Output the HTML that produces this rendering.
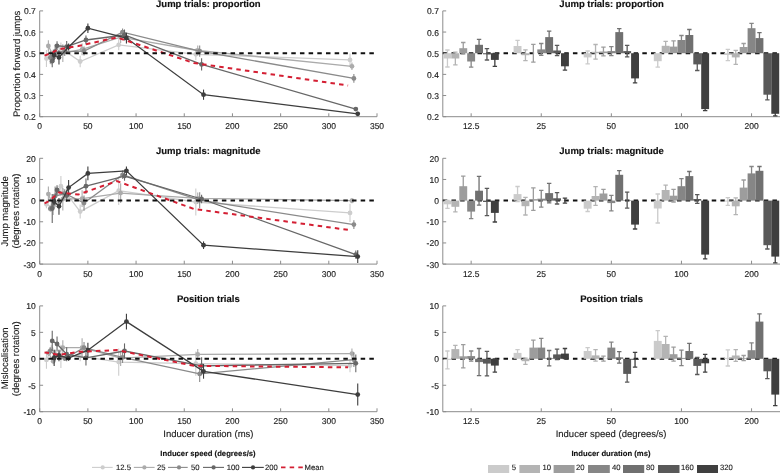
<!DOCTYPE html>
<html><head><meta charset="utf-8"><style>
html,body{margin:0;padding:0;background:#fff;}
svg{display:block;will-change:transform;}
text{font-family:"Liberation Sans", sans-serif;text-rendering:geometricPrecision;}
.tk{font-size:8.5px;fill:#222;stroke:#222;stroke-width:0.15px;}
.ti{font-size:9.5px;font-weight:bold;fill:#111;stroke:#111;stroke-width:0.15px;}
.lb{font-size:9.5px;fill:#1a1a1a;stroke:#1a1a1a;stroke-width:0.12px;}
.lg{font-size:7.7px;fill:#1a1a1a;stroke:#1a1a1a;stroke-width:0.12px;}
.lgt{font-size:7.7px;font-weight:bold;fill:#111;stroke:#111;stroke-width:0.12px;}
</style></head><body>
<svg width="780" height="473" viewBox="0 0 780 473">
<rect width="780" height="473" fill="#fff"/>
<path d="M39.7,10.9V116.7H377.0" fill="none" stroke="#8c8c8c" stroke-width="1"/>
<path d="M39.7,116.70h3.4" stroke="#8c8c8c" stroke-width="1"/>
<text x="35.80" y="120.20" text-anchor="end" class="tk">0.2</text>
<path d="M39.7,95.54h3.4" stroke="#8c8c8c" stroke-width="1"/>
<text x="35.80" y="99.04" text-anchor="end" class="tk">0.3</text>
<path d="M39.7,74.38h3.4" stroke="#8c8c8c" stroke-width="1"/>
<text x="35.80" y="77.88" text-anchor="end" class="tk">0.4</text>
<path d="M39.7,53.22h3.4" stroke="#8c8c8c" stroke-width="1"/>
<text x="35.80" y="56.72" text-anchor="end" class="tk">0.5</text>
<path d="M39.7,32.06h3.4" stroke="#8c8c8c" stroke-width="1"/>
<text x="35.80" y="35.56" text-anchor="end" class="tk">0.6</text>
<path d="M39.7,10.90h3.4" stroke="#8c8c8c" stroke-width="1"/>
<text x="35.80" y="14.40" text-anchor="end" class="tk">0.7</text>
<path d="M39.70,116.7v-3.4" stroke="#8c8c8c" stroke-width="1"/>
<text x="39.70" y="129.30" text-anchor="middle" class="tk">0</text>
<path d="M87.89,116.7v-3.4" stroke="#8c8c8c" stroke-width="1"/>
<text x="87.89" y="129.30" text-anchor="middle" class="tk">50</text>
<path d="M136.07,116.7v-3.4" stroke="#8c8c8c" stroke-width="1"/>
<text x="136.07" y="129.30" text-anchor="middle" class="tk">100</text>
<path d="M184.26,116.7v-3.4" stroke="#8c8c8c" stroke-width="1"/>
<text x="184.26" y="129.30" text-anchor="middle" class="tk">150</text>
<path d="M232.44,116.7v-3.4" stroke="#8c8c8c" stroke-width="1"/>
<text x="232.44" y="129.30" text-anchor="middle" class="tk">200</text>
<path d="M280.63,116.7v-3.4" stroke="#8c8c8c" stroke-width="1"/>
<text x="280.63" y="129.30" text-anchor="middle" class="tk">250</text>
<path d="M328.81,116.7v-3.4" stroke="#8c8c8c" stroke-width="1"/>
<text x="328.81" y="129.30" text-anchor="middle" class="tk">300</text>
<path d="M377.00,116.7v-3.4" stroke="#8c8c8c" stroke-width="1"/>
<text x="377.00" y="129.30" text-anchor="middle" class="tk">350</text>
<path d="M442.8,10.9V116.7H780.5" fill="none" stroke="#8c8c8c" stroke-width="1"/>
<path d="M442.8,116.70h3.4" stroke="#8c8c8c" stroke-width="1"/>
<text x="438.90" y="120.20" text-anchor="end" class="tk">0.2</text>
<path d="M442.8,95.54h3.4" stroke="#8c8c8c" stroke-width="1"/>
<text x="438.90" y="99.04" text-anchor="end" class="tk">0.3</text>
<path d="M442.8,74.38h3.4" stroke="#8c8c8c" stroke-width="1"/>
<text x="438.90" y="77.88" text-anchor="end" class="tk">0.4</text>
<path d="M442.8,53.22h3.4" stroke="#8c8c8c" stroke-width="1"/>
<text x="438.90" y="56.72" text-anchor="end" class="tk">0.5</text>
<path d="M442.8,32.06h3.4" stroke="#8c8c8c" stroke-width="1"/>
<text x="438.90" y="35.56" text-anchor="end" class="tk">0.6</text>
<path d="M442.8,10.90h3.4" stroke="#8c8c8c" stroke-width="1"/>
<text x="438.90" y="14.40" text-anchor="end" class="tk">0.7</text>
<path d="M471.15,116.7v-3.4" stroke="#8c8c8c" stroke-width="1"/>
<text x="471.15" y="129.30" text-anchor="middle" class="tk">12.5</text>
<path d="M541.25,116.7v-3.4" stroke="#8c8c8c" stroke-width="1"/>
<text x="541.25" y="129.30" text-anchor="middle" class="tk">25</text>
<path d="M611.35,116.7v-3.4" stroke="#8c8c8c" stroke-width="1"/>
<text x="611.35" y="129.30" text-anchor="middle" class="tk">50</text>
<path d="M681.45,116.7v-3.4" stroke="#8c8c8c" stroke-width="1"/>
<text x="681.45" y="129.30" text-anchor="middle" class="tk">100</text>
<path d="M751.55,116.7v-3.4" stroke="#8c8c8c" stroke-width="1"/>
<text x="751.55" y="129.30" text-anchor="middle" class="tk">200</text>
<path d="M39.7,158.3V264.1H377.0" fill="none" stroke="#8c8c8c" stroke-width="1"/>
<path d="M39.7,264.10h3.4" stroke="#8c8c8c" stroke-width="1"/>
<text x="35.80" y="267.60" text-anchor="end" class="tk">-30</text>
<path d="M39.7,242.94h3.4" stroke="#8c8c8c" stroke-width="1"/>
<text x="35.80" y="246.44" text-anchor="end" class="tk">-20</text>
<path d="M39.7,221.78h3.4" stroke="#8c8c8c" stroke-width="1"/>
<text x="35.80" y="225.28" text-anchor="end" class="tk">-10</text>
<path d="M39.7,200.62h3.4" stroke="#8c8c8c" stroke-width="1"/>
<text x="35.80" y="204.12" text-anchor="end" class="tk">0</text>
<path d="M39.7,179.46h3.4" stroke="#8c8c8c" stroke-width="1"/>
<text x="35.80" y="182.96" text-anchor="end" class="tk">10</text>
<path d="M39.7,158.30h3.4" stroke="#8c8c8c" stroke-width="1"/>
<text x="35.80" y="161.80" text-anchor="end" class="tk">20</text>
<path d="M39.70,264.1v-3.4" stroke="#8c8c8c" stroke-width="1"/>
<text x="39.70" y="276.70" text-anchor="middle" class="tk">0</text>
<path d="M87.89,264.1v-3.4" stroke="#8c8c8c" stroke-width="1"/>
<text x="87.89" y="276.70" text-anchor="middle" class="tk">50</text>
<path d="M136.07,264.1v-3.4" stroke="#8c8c8c" stroke-width="1"/>
<text x="136.07" y="276.70" text-anchor="middle" class="tk">100</text>
<path d="M184.26,264.1v-3.4" stroke="#8c8c8c" stroke-width="1"/>
<text x="184.26" y="276.70" text-anchor="middle" class="tk">150</text>
<path d="M232.44,264.1v-3.4" stroke="#8c8c8c" stroke-width="1"/>
<text x="232.44" y="276.70" text-anchor="middle" class="tk">200</text>
<path d="M280.63,264.1v-3.4" stroke="#8c8c8c" stroke-width="1"/>
<text x="280.63" y="276.70" text-anchor="middle" class="tk">250</text>
<path d="M328.81,264.1v-3.4" stroke="#8c8c8c" stroke-width="1"/>
<text x="328.81" y="276.70" text-anchor="middle" class="tk">300</text>
<path d="M377.00,264.1v-3.4" stroke="#8c8c8c" stroke-width="1"/>
<text x="377.00" y="276.70" text-anchor="middle" class="tk">350</text>
<path d="M442.8,158.3V264.1H780.5" fill="none" stroke="#8c8c8c" stroke-width="1"/>
<path d="M442.8,264.10h3.4" stroke="#8c8c8c" stroke-width="1"/>
<text x="438.90" y="267.60" text-anchor="end" class="tk">-30</text>
<path d="M442.8,242.94h3.4" stroke="#8c8c8c" stroke-width="1"/>
<text x="438.90" y="246.44" text-anchor="end" class="tk">-20</text>
<path d="M442.8,221.78h3.4" stroke="#8c8c8c" stroke-width="1"/>
<text x="438.90" y="225.28" text-anchor="end" class="tk">-10</text>
<path d="M442.8,200.62h3.4" stroke="#8c8c8c" stroke-width="1"/>
<text x="438.90" y="204.12" text-anchor="end" class="tk">0</text>
<path d="M442.8,179.46h3.4" stroke="#8c8c8c" stroke-width="1"/>
<text x="438.90" y="182.96" text-anchor="end" class="tk">10</text>
<path d="M442.8,158.30h3.4" stroke="#8c8c8c" stroke-width="1"/>
<text x="438.90" y="161.80" text-anchor="end" class="tk">20</text>
<path d="M471.15,264.1v-3.4" stroke="#8c8c8c" stroke-width="1"/>
<text x="471.15" y="276.70" text-anchor="middle" class="tk">12.5</text>
<path d="M541.25,264.1v-3.4" stroke="#8c8c8c" stroke-width="1"/>
<text x="541.25" y="276.70" text-anchor="middle" class="tk">25</text>
<path d="M611.35,264.1v-3.4" stroke="#8c8c8c" stroke-width="1"/>
<text x="611.35" y="276.70" text-anchor="middle" class="tk">50</text>
<path d="M681.45,264.1v-3.4" stroke="#8c8c8c" stroke-width="1"/>
<text x="681.45" y="276.70" text-anchor="middle" class="tk">100</text>
<path d="M751.55,264.1v-3.4" stroke="#8c8c8c" stroke-width="1"/>
<text x="751.55" y="276.70" text-anchor="middle" class="tk">200</text>
<path d="M39.7,305.9V411.7H377.0" fill="none" stroke="#8c8c8c" stroke-width="1"/>
<path d="M39.7,411.70h3.4" stroke="#8c8c8c" stroke-width="1"/>
<text x="35.80" y="415.20" text-anchor="end" class="tk">-10</text>
<path d="M39.7,385.25h3.4" stroke="#8c8c8c" stroke-width="1"/>
<text x="35.80" y="388.75" text-anchor="end" class="tk">-5</text>
<path d="M39.7,358.80h3.4" stroke="#8c8c8c" stroke-width="1"/>
<text x="35.80" y="362.30" text-anchor="end" class="tk">0</text>
<path d="M39.7,332.35h3.4" stroke="#8c8c8c" stroke-width="1"/>
<text x="35.80" y="335.85" text-anchor="end" class="tk">5</text>
<path d="M39.7,305.90h3.4" stroke="#8c8c8c" stroke-width="1"/>
<text x="35.80" y="309.40" text-anchor="end" class="tk">10</text>
<path d="M39.70,411.7v-3.4" stroke="#8c8c8c" stroke-width="1"/>
<text x="39.70" y="424.30" text-anchor="middle" class="tk">0</text>
<path d="M87.89,411.7v-3.4" stroke="#8c8c8c" stroke-width="1"/>
<text x="87.89" y="424.30" text-anchor="middle" class="tk">50</text>
<path d="M136.07,411.7v-3.4" stroke="#8c8c8c" stroke-width="1"/>
<text x="136.07" y="424.30" text-anchor="middle" class="tk">100</text>
<path d="M184.26,411.7v-3.4" stroke="#8c8c8c" stroke-width="1"/>
<text x="184.26" y="424.30" text-anchor="middle" class="tk">150</text>
<path d="M232.44,411.7v-3.4" stroke="#8c8c8c" stroke-width="1"/>
<text x="232.44" y="424.30" text-anchor="middle" class="tk">200</text>
<path d="M280.63,411.7v-3.4" stroke="#8c8c8c" stroke-width="1"/>
<text x="280.63" y="424.30" text-anchor="middle" class="tk">250</text>
<path d="M328.81,411.7v-3.4" stroke="#8c8c8c" stroke-width="1"/>
<text x="328.81" y="424.30" text-anchor="middle" class="tk">300</text>
<path d="M377.00,411.7v-3.4" stroke="#8c8c8c" stroke-width="1"/>
<text x="377.00" y="424.30" text-anchor="middle" class="tk">350</text>
<path d="M442.8,305.9V411.7H780.5" fill="none" stroke="#8c8c8c" stroke-width="1"/>
<path d="M442.8,411.70h3.4" stroke="#8c8c8c" stroke-width="1"/>
<text x="438.90" y="415.20" text-anchor="end" class="tk">-10</text>
<path d="M442.8,385.25h3.4" stroke="#8c8c8c" stroke-width="1"/>
<text x="438.90" y="388.75" text-anchor="end" class="tk">-5</text>
<path d="M442.8,358.80h3.4" stroke="#8c8c8c" stroke-width="1"/>
<text x="438.90" y="362.30" text-anchor="end" class="tk">0</text>
<path d="M442.8,332.35h3.4" stroke="#8c8c8c" stroke-width="1"/>
<text x="438.90" y="335.85" text-anchor="end" class="tk">5</text>
<path d="M442.8,305.90h3.4" stroke="#8c8c8c" stroke-width="1"/>
<text x="438.90" y="309.40" text-anchor="end" class="tk">10</text>
<path d="M471.15,411.7v-3.4" stroke="#8c8c8c" stroke-width="1"/>
<text x="471.15" y="424.30" text-anchor="middle" class="tk">12.5</text>
<path d="M541.25,411.7v-3.4" stroke="#8c8c8c" stroke-width="1"/>
<text x="541.25" y="424.30" text-anchor="middle" class="tk">25</text>
<path d="M611.35,411.7v-3.4" stroke="#8c8c8c" stroke-width="1"/>
<text x="611.35" y="424.30" text-anchor="middle" class="tk">50</text>
<path d="M681.45,411.7v-3.4" stroke="#8c8c8c" stroke-width="1"/>
<text x="681.45" y="424.30" text-anchor="middle" class="tk">100</text>
<path d="M751.55,411.7v-3.4" stroke="#8c8c8c" stroke-width="1"/>
<text x="751.55" y="424.30" text-anchor="middle" class="tk">200</text>
<text x="208.3" y="6.60" text-anchor="middle" class="ti">Jump trials: proportion</text>
<text x="611.6" y="6.60" text-anchor="middle" class="ti">Jump trials: proportion</text>
<text x="208.3" y="154.00" text-anchor="middle" class="ti">Jump trials: magnitude</text>
<text x="611.6" y="154.00" text-anchor="middle" class="ti">Jump trials: magnitude</text>
<text x="208.3" y="301.60" text-anchor="middle" class="ti">Position trials</text>
<text x="611.6" y="301.60" text-anchor="middle" class="ti">Position trials</text>
<path d="M442.80,53.22H780.5" stroke="#111" stroke-width="2" stroke-dasharray="4.5 4.175"/>
<rect x="443.50" y="53.22" width="7.90" height="5.28" fill="#cbcbcb"/>
<path d="M447.45,50.00V67.00M445.25,50.00h4.4M445.25,67.00h4.4" stroke="#cbcbcb" stroke-width="1.3" fill="none"/>
<rect x="451.40" y="53.22" width="7.90" height="5.28" fill="#b4b4b4"/>
<path d="M455.35,52.20V64.80M453.15,52.20h4.4M453.15,64.80h4.4" stroke="#b4b4b4" stroke-width="1.3" fill="none"/>
<rect x="459.30" y="48.20" width="7.90" height="5.02" fill="#9d9d9d"/>
<path d="M463.25,42.50V53.90M461.05,42.50h4.4M461.05,53.90h4.4" stroke="#9d9d9d" stroke-width="1.3" fill="none"/>
<rect x="467.20" y="53.22" width="7.90" height="8.28" fill="#868686"/>
<path d="M471.15,55.80V67.20M468.95,55.80h4.4M468.95,67.20h4.4" stroke="#868686" stroke-width="1.3" fill="none"/>
<rect x="475.10" y="44.80" width="7.90" height="8.42" fill="#707070"/>
<path d="M479.05,39.30V50.30M476.85,39.30h4.4M476.85,50.30h4.4" stroke="#707070" stroke-width="1.3" fill="none"/>
<rect x="483.00" y="53.22" width="7.90" height="1.08" fill="#595959"/>
<path d="M486.95,48.60V60.00M484.75,48.60h4.4M484.75,60.00h4.4" stroke="#595959" stroke-width="1.3" fill="none"/>
<rect x="490.90" y="53.22" width="7.90" height="6.68" fill="#3f3f3f"/>
<path d="M494.85,53.40V66.40M492.65,53.40h4.4M492.65,66.40h4.4" stroke="#3f3f3f" stroke-width="1.3" fill="none"/>
<rect x="513.60" y="46.00" width="7.90" height="7.22" fill="#cbcbcb"/>
<path d="M517.55,40.30V51.70M515.35,40.30h4.4M515.35,51.70h4.4" stroke="#cbcbcb" stroke-width="1.3" fill="none"/>
<rect x="521.50" y="53.22" width="7.90" height="1.98" fill="#b4b4b4"/>
<path d="M525.45,49.80V60.60M523.25,49.80h4.4M523.25,60.60h4.4" stroke="#b4b4b4" stroke-width="1.3" fill="none"/>
<rect x="529.40" y="53.20" width="7.90" height="0.02" fill="#9d9d9d"/>
<path d="M533.35,44.30V62.10M531.15,44.30h4.4M531.15,62.10h4.4" stroke="#9d9d9d" stroke-width="1.3" fill="none"/>
<rect x="537.30" y="49.40" width="7.90" height="3.82" fill="#868686"/>
<path d="M541.25,43.50V55.30M539.05,43.50h4.4M539.05,55.30h4.4" stroke="#868686" stroke-width="1.3" fill="none"/>
<rect x="545.20" y="37.10" width="7.90" height="16.12" fill="#707070"/>
<path d="M549.15,31.20V43.00M546.95,31.20h4.4M546.95,43.00h4.4" stroke="#707070" stroke-width="1.3" fill="none"/>
<rect x="553.10" y="50.50" width="7.90" height="2.72" fill="#595959"/>
<path d="M557.05,45.40V55.60M554.85,45.40h4.4M554.85,55.60h4.4" stroke="#595959" stroke-width="1.3" fill="none"/>
<rect x="561.00" y="53.22" width="7.90" height="13.08" fill="#3f3f3f"/>
<path d="M564.95,62.50V70.10M562.75,62.50h4.4M562.75,70.10h4.4" stroke="#3f3f3f" stroke-width="1.3" fill="none"/>
<rect x="583.70" y="53.22" width="7.90" height="4.18" fill="#cbcbcb"/>
<path d="M587.65,51.00V63.80M585.45,51.00h4.4M585.45,63.80h4.4" stroke="#cbcbcb" stroke-width="1.3" fill="none"/>
<rect x="591.60" y="51.80" width="7.90" height="1.42" fill="#b4b4b4"/>
<path d="M595.55,44.50V59.10M593.35,44.50h4.4M593.35,59.10h4.4" stroke="#b4b4b4" stroke-width="1.3" fill="none"/>
<rect x="599.50" y="51.50" width="7.90" height="1.72" fill="#9d9d9d"/>
<path d="M603.45,47.10V55.90M601.25,47.10h4.4M601.25,55.90h4.4" stroke="#9d9d9d" stroke-width="1.3" fill="none"/>
<rect x="607.40" y="51.10" width="7.90" height="2.12" fill="#868686"/>
<path d="M611.35,46.60V55.60M609.15,46.60h4.4M609.15,55.60h4.4" stroke="#868686" stroke-width="1.3" fill="none"/>
<rect x="615.30" y="32.10" width="7.90" height="21.12" fill="#707070"/>
<path d="M619.25,28.60V35.60M617.05,28.60h4.4M617.05,35.60h4.4" stroke="#707070" stroke-width="1.3" fill="none"/>
<rect x="623.20" y="51.10" width="7.90" height="2.12" fill="#595959"/>
<path d="M627.15,45.40V56.80M624.95,45.40h4.4M624.95,56.80h4.4" stroke="#595959" stroke-width="1.3" fill="none"/>
<rect x="631.10" y="53.22" width="7.90" height="25.18" fill="#3f3f3f"/>
<path d="M635.05,74.00V82.80M632.85,74.00h4.4M632.85,82.80h4.4" stroke="#3f3f3f" stroke-width="1.3" fill="none"/>
<rect x="653.80" y="53.22" width="7.90" height="7.98" fill="#cbcbcb"/>
<path d="M657.75,55.20V67.20M655.55,55.20h4.4M655.55,67.20h4.4" stroke="#cbcbcb" stroke-width="1.3" fill="none"/>
<rect x="661.70" y="45.80" width="7.90" height="7.42" fill="#b4b4b4"/>
<path d="M665.65,41.30V50.30M663.45,41.30h4.4M663.45,50.30h4.4" stroke="#b4b4b4" stroke-width="1.3" fill="none"/>
<rect x="669.60" y="46.60" width="7.90" height="6.62" fill="#9d9d9d"/>
<path d="M673.55,40.90V52.30M671.35,40.90h4.4M671.35,52.30h4.4" stroke="#9d9d9d" stroke-width="1.3" fill="none"/>
<rect x="677.50" y="40.00" width="7.90" height="13.22" fill="#868686"/>
<path d="M681.45,35.50V44.50M679.25,35.50h4.4M679.25,44.50h4.4" stroke="#868686" stroke-width="1.3" fill="none"/>
<rect x="685.40" y="35.00" width="7.90" height="18.22" fill="#707070"/>
<path d="M689.35,29.50V40.50M687.15,29.50h4.4M687.15,40.50h4.4" stroke="#707070" stroke-width="1.3" fill="none"/>
<rect x="693.30" y="53.22" width="7.90" height="11.18" fill="#595959"/>
<path d="M697.25,58.30V70.50M695.05,58.30h4.4M695.05,70.50h4.4" stroke="#595959" stroke-width="1.3" fill="none"/>
<rect x="701.20" y="53.22" width="7.90" height="55.88" fill="#3f3f3f"/>
<path d="M705.15,107.60V110.60M702.95,107.60h4.4M702.95,110.60h4.4" stroke="#3f3f3f" stroke-width="1.3" fill="none"/>
<rect x="723.90" y="53.22" width="7.90" height="1.78" fill="#cbcbcb"/>
<path d="M727.85,49.40V60.60M725.65,49.40h4.4M725.65,60.60h4.4" stroke="#cbcbcb" stroke-width="1.3" fill="none"/>
<rect x="731.80" y="53.22" width="7.90" height="4.18" fill="#b4b4b4"/>
<path d="M735.75,50.40V64.40M733.55,50.40h4.4M733.55,64.40h4.4" stroke="#b4b4b4" stroke-width="1.3" fill="none"/>
<rect x="739.70" y="47.00" width="7.90" height="6.22" fill="#9d9d9d"/>
<path d="M743.65,43.50V50.50M741.45,43.50h4.4M741.45,50.50h4.4" stroke="#9d9d9d" stroke-width="1.3" fill="none"/>
<rect x="747.60" y="28.20" width="7.90" height="25.02" fill="#868686"/>
<path d="M751.55,23.40V33.00M749.35,23.40h4.4M749.35,33.00h4.4" stroke="#868686" stroke-width="1.3" fill="none"/>
<rect x="755.50" y="38.10" width="7.90" height="15.12" fill="#707070"/>
<path d="M759.45,32.70V43.50M757.25,32.70h4.4M757.25,43.50h4.4" stroke="#707070" stroke-width="1.3" fill="none"/>
<rect x="763.40" y="53.22" width="7.90" height="41.48" fill="#595959"/>
<path d="M767.35,89.60V99.80M765.15,89.60h4.4M765.15,99.80h4.4" stroke="#595959" stroke-width="1.3" fill="none"/>
<rect x="771.30" y="53.22" width="7.90" height="60.58" fill="#3f3f3f"/>
<path d="M775.25,111.80V115.80M773.05,111.80h4.4M773.05,115.80h4.4" stroke="#3f3f3f" stroke-width="1.3" fill="none"/>
<path d="M442.80,200.62H780.5" stroke="#111" stroke-width="2" stroke-dasharray="4.5 4.175"/>
<rect x="443.50" y="200.62" width="7.90" height="3.68" fill="#cbcbcb"/>
<path d="M447.45,200.30V208.30M445.25,200.30h4.4M445.25,208.30h4.4" stroke="#cbcbcb" stroke-width="1.3" fill="none"/>
<rect x="451.40" y="200.62" width="7.90" height="6.18" fill="#b4b4b4"/>
<path d="M455.35,201.80V211.80M453.15,201.80h4.4M453.15,211.80h4.4" stroke="#b4b4b4" stroke-width="1.3" fill="none"/>
<rect x="459.30" y="186.20" width="7.90" height="14.42" fill="#9d9d9d"/>
<path d="M463.25,176.10V196.30M461.05,176.10h4.4M461.05,196.30h4.4" stroke="#9d9d9d" stroke-width="1.3" fill="none"/>
<rect x="467.20" y="200.62" width="7.90" height="10.98" fill="#868686"/>
<path d="M471.15,204.60V218.60M468.95,204.60h4.4M468.95,218.60h4.4" stroke="#868686" stroke-width="1.3" fill="none"/>
<rect x="475.10" y="190.70" width="7.90" height="9.92" fill="#707070"/>
<path d="M479.05,176.30V205.10M476.85,176.30h4.4M476.85,205.10h4.4" stroke="#707070" stroke-width="1.3" fill="none"/>
<rect x="483.00" y="200.62" width="7.90" height="1.38" fill="#595959"/>
<path d="M486.95,188.40V215.60M484.75,188.40h4.4M484.75,215.60h4.4" stroke="#595959" stroke-width="1.3" fill="none"/>
<rect x="490.90" y="200.62" width="7.90" height="12.28" fill="#3f3f3f"/>
<path d="M494.85,203.80V222.00M492.65,203.80h4.4M492.65,222.00h4.4" stroke="#3f3f3f" stroke-width="1.3" fill="none"/>
<rect x="513.60" y="194.10" width="7.90" height="6.52" fill="#cbcbcb"/>
<path d="M517.55,186.50V201.70M515.35,186.50h4.4M515.35,201.70h4.4" stroke="#cbcbcb" stroke-width="1.3" fill="none"/>
<rect x="521.50" y="200.62" width="7.90" height="5.58" fill="#b4b4b4"/>
<path d="M525.45,197.40V215.00M523.25,197.40h4.4M523.25,215.00h4.4" stroke="#b4b4b4" stroke-width="1.3" fill="none"/>
<rect x="529.40" y="199.10" width="7.90" height="1.52" fill="#9d9d9d"/>
<path d="M533.35,187.80V210.40M531.15,187.80h4.4M531.15,210.40h4.4" stroke="#9d9d9d" stroke-width="1.3" fill="none"/>
<rect x="537.30" y="198.70" width="7.90" height="1.92" fill="#868686"/>
<path d="M541.25,190.30V207.10M539.05,190.30h4.4M539.05,207.10h4.4" stroke="#868686" stroke-width="1.3" fill="none"/>
<rect x="545.20" y="193.10" width="7.90" height="7.52" fill="#707070"/>
<path d="M549.15,183.30V202.90M546.95,183.30h4.4M546.95,202.90h4.4" stroke="#707070" stroke-width="1.3" fill="none"/>
<rect x="553.10" y="198.30" width="7.90" height="2.32" fill="#595959"/>
<path d="M557.05,192.60V204.00M554.85,192.60h4.4M554.85,204.00h4.4" stroke="#595959" stroke-width="1.3" fill="none"/>
<rect x="561.00" y="200.62" width="7.90" height="0.08" fill="#3f3f3f"/>
<path d="M564.95,198.20V203.20M562.75,198.20h4.4M562.75,203.20h4.4" stroke="#3f3f3f" stroke-width="1.3" fill="none"/>
<rect x="583.70" y="200.62" width="7.90" height="8.08" fill="#cbcbcb"/>
<path d="M587.65,205.90V211.50M585.45,205.90h4.4M585.45,211.50h4.4" stroke="#cbcbcb" stroke-width="1.3" fill="none"/>
<rect x="591.60" y="196.00" width="7.90" height="4.62" fill="#b4b4b4"/>
<path d="M595.55,186.60V205.40M593.35,186.60h4.4M593.35,205.40h4.4" stroke="#b4b4b4" stroke-width="1.3" fill="none"/>
<rect x="599.50" y="193.50" width="7.90" height="7.12" fill="#9d9d9d"/>
<path d="M603.45,189.30V197.70M601.25,189.30h4.4M601.25,197.70h4.4" stroke="#9d9d9d" stroke-width="1.3" fill="none"/>
<rect x="607.40" y="200.62" width="7.90" height="2.48" fill="#868686"/>
<path d="M611.35,195.40V210.80M609.15,195.40h4.4M609.15,210.80h4.4" stroke="#868686" stroke-width="1.3" fill="none"/>
<rect x="615.30" y="174.80" width="7.90" height="25.82" fill="#707070"/>
<path d="M619.25,170.60V179.00M617.05,170.60h4.4M617.05,179.00h4.4" stroke="#707070" stroke-width="1.3" fill="none"/>
<rect x="623.20" y="200.20" width="7.90" height="0.42" fill="#595959"/>
<path d="M627.15,192.20V208.20M624.95,192.20h4.4M624.95,208.20h4.4" stroke="#595959" stroke-width="1.3" fill="none"/>
<rect x="631.10" y="200.62" width="7.90" height="23.98" fill="#3f3f3f"/>
<path d="M635.05,220.20V229.00M632.85,220.20h4.4M632.85,229.00h4.4" stroke="#3f3f3f" stroke-width="1.3" fill="none"/>
<rect x="653.80" y="200.62" width="7.90" height="7.88" fill="#cbcbcb"/>
<path d="M657.75,194.00V223.00M655.55,194.00h4.4M655.55,223.00h4.4" stroke="#cbcbcb" stroke-width="1.3" fill="none"/>
<rect x="661.70" y="190.00" width="7.90" height="10.62" fill="#b4b4b4"/>
<path d="M665.65,185.20V194.80M663.45,185.20h4.4M663.45,194.80h4.4" stroke="#b4b4b4" stroke-width="1.3" fill="none"/>
<rect x="669.60" y="195.70" width="7.90" height="4.92" fill="#9d9d9d"/>
<path d="M673.55,189.40V202.00M671.35,189.40h4.4M671.35,202.00h4.4" stroke="#9d9d9d" stroke-width="1.3" fill="none"/>
<rect x="677.50" y="186.20" width="7.90" height="14.42" fill="#868686"/>
<path d="M681.45,178.60V193.80M679.25,178.60h4.4M679.25,193.80h4.4" stroke="#868686" stroke-width="1.3" fill="none"/>
<rect x="685.40" y="176.10" width="7.90" height="24.52" fill="#707070"/>
<path d="M689.35,171.50V180.70M687.15,171.50h4.4M687.15,180.70h4.4" stroke="#707070" stroke-width="1.3" fill="none"/>
<rect x="693.30" y="199.00" width="7.90" height="1.62" fill="#595959"/>
<path d="M697.25,194.70V203.30M695.05,194.70h4.4M695.05,203.30h4.4" stroke="#595959" stroke-width="1.3" fill="none"/>
<rect x="701.20" y="200.62" width="7.90" height="53.98" fill="#3f3f3f"/>
<path d="M705.15,250.40V258.80M702.95,250.40h4.4M702.95,258.80h4.4" stroke="#3f3f3f" stroke-width="1.3" fill="none"/>
<rect x="723.90" y="200.62" width="7.90" height="0.88" fill="#cbcbcb"/>
<path d="M727.85,197.70V205.30M725.65,197.70h4.4M725.65,205.30h4.4" stroke="#cbcbcb" stroke-width="1.3" fill="none"/>
<rect x="731.80" y="200.62" width="7.90" height="5.68" fill="#b4b4b4"/>
<path d="M735.75,197.90V214.70M733.55,197.90h4.4M733.55,214.70h4.4" stroke="#b4b4b4" stroke-width="1.3" fill="none"/>
<rect x="739.70" y="187.60" width="7.90" height="13.02" fill="#9d9d9d"/>
<path d="M743.65,180.00V195.20M741.45,180.00h4.4M741.45,195.20h4.4" stroke="#9d9d9d" stroke-width="1.3" fill="none"/>
<rect x="747.60" y="173.40" width="7.90" height="27.22" fill="#868686"/>
<path d="M751.55,166.50V180.30M749.35,166.50h4.4M749.35,180.30h4.4" stroke="#868686" stroke-width="1.3" fill="none"/>
<rect x="755.50" y="170.80" width="7.90" height="29.82" fill="#707070"/>
<path d="M759.45,166.50V175.10M757.25,166.50h4.4M757.25,175.10h4.4" stroke="#707070" stroke-width="1.3" fill="none"/>
<rect x="763.40" y="200.62" width="7.90" height="44.58" fill="#595959"/>
<path d="M767.35,241.40V249.00M765.15,241.40h4.4M765.15,249.00h4.4" stroke="#595959" stroke-width="1.3" fill="none"/>
<rect x="771.30" y="200.62" width="7.90" height="55.98" fill="#3f3f3f"/>
<path d="M775.25,250.30V262.90M773.05,250.30h4.4M773.05,262.90h4.4" stroke="#3f3f3f" stroke-width="1.3" fill="none"/>
<path d="M442.80,358.80H780.5" stroke="#111" stroke-width="2" stroke-dasharray="4.5 4.175"/>
<rect x="443.50" y="358.80" width="7.90" height="1.10" fill="#cbcbcb"/>
<path d="M447.45,351.00V368.80M445.25,351.00h4.4M445.25,368.80h4.4" stroke="#cbcbcb" stroke-width="1.3" fill="none"/>
<rect x="451.40" y="349.10" width="7.90" height="9.70" fill="#b4b4b4"/>
<path d="M455.35,345.30V352.90M453.15,345.30h4.4M453.15,352.90h4.4" stroke="#b4b4b4" stroke-width="1.3" fill="none"/>
<rect x="459.30" y="356.30" width="7.90" height="2.50" fill="#9d9d9d"/>
<path d="M463.25,344.70V367.90M461.05,344.70h4.4M461.05,367.90h4.4" stroke="#9d9d9d" stroke-width="1.3" fill="none"/>
<rect x="467.20" y="356.10" width="7.90" height="2.70" fill="#868686"/>
<path d="M471.15,351.00V361.20M468.95,351.00h4.4M468.95,361.20h4.4" stroke="#868686" stroke-width="1.3" fill="none"/>
<rect x="475.10" y="358.80" width="7.90" height="3.30" fill="#707070"/>
<path d="M479.05,348.50V375.70M476.85,348.50h4.4M476.85,375.70h4.4" stroke="#707070" stroke-width="1.3" fill="none"/>
<rect x="483.00" y="358.80" width="7.90" height="4.80" fill="#595959"/>
<path d="M486.95,351.40V375.80M484.75,351.40h4.4M484.75,375.80h4.4" stroke="#595959" stroke-width="1.3" fill="none"/>
<rect x="490.90" y="358.80" width="7.90" height="6.80" fill="#3f3f3f"/>
<path d="M494.85,359.00V372.20M492.65,359.00h4.4M492.65,372.20h4.4" stroke="#3f3f3f" stroke-width="1.3" fill="none"/>
<rect x="513.60" y="352.90" width="7.90" height="5.90" fill="#cbcbcb"/>
<path d="M517.55,349.70V356.10M515.35,349.70h4.4M515.35,356.10h4.4" stroke="#cbcbcb" stroke-width="1.3" fill="none"/>
<rect x="521.50" y="358.80" width="7.90" height="2.40" fill="#b4b4b4"/>
<path d="M525.45,358.10V364.30M523.25,358.10h4.4M523.25,364.30h4.4" stroke="#b4b4b4" stroke-width="1.3" fill="none"/>
<rect x="529.40" y="347.60" width="7.90" height="11.20" fill="#9d9d9d"/>
<path d="M533.35,340.20V355.00M531.15,340.20h4.4M531.15,355.00h4.4" stroke="#9d9d9d" stroke-width="1.3" fill="none"/>
<rect x="537.30" y="347.60" width="7.90" height="11.20" fill="#868686"/>
<path d="M541.25,338.30V356.90M539.05,338.30h4.4M539.05,356.90h4.4" stroke="#868686" stroke-width="1.3" fill="none"/>
<rect x="545.20" y="358.20" width="7.90" height="0.60" fill="#707070"/>
<path d="M549.15,350.50V365.90M546.95,350.50h4.4M546.95,365.90h4.4" stroke="#707070" stroke-width="1.3" fill="none"/>
<rect x="553.10" y="354.40" width="7.90" height="4.40" fill="#595959"/>
<path d="M557.05,349.10V359.70M554.85,349.10h4.4M554.85,359.70h4.4" stroke="#595959" stroke-width="1.3" fill="none"/>
<rect x="561.00" y="353.60" width="7.90" height="5.20" fill="#3f3f3f"/>
<path d="M564.95,348.50V358.70M562.75,348.50h4.4M562.75,358.70h4.4" stroke="#3f3f3f" stroke-width="1.3" fill="none"/>
<rect x="583.70" y="351.00" width="7.90" height="7.80" fill="#cbcbcb"/>
<path d="M587.65,347.60V354.40M585.45,347.60h4.4M585.45,354.40h4.4" stroke="#cbcbcb" stroke-width="1.3" fill="none"/>
<rect x="591.60" y="355.40" width="7.90" height="3.40" fill="#b4b4b4"/>
<path d="M595.55,349.70V361.10M593.35,349.70h4.4M593.35,361.10h4.4" stroke="#b4b4b4" stroke-width="1.3" fill="none"/>
<rect x="599.50" y="358.60" width="7.90" height="0.20" fill="#9d9d9d"/>
<path d="M603.45,356.10V361.10M601.25,356.10h4.4M601.25,361.10h4.4" stroke="#9d9d9d" stroke-width="1.3" fill="none"/>
<rect x="607.40" y="347.60" width="7.90" height="11.20" fill="#868686"/>
<path d="M611.35,342.10V353.10M609.15,342.10h4.4M609.15,353.10h4.4" stroke="#868686" stroke-width="1.3" fill="none"/>
<rect x="615.30" y="357.40" width="7.90" height="1.40" fill="#707070"/>
<path d="M619.25,351.70V363.10M617.05,351.70h4.4M617.05,363.10h4.4" stroke="#707070" stroke-width="1.3" fill="none"/>
<rect x="623.20" y="358.80" width="7.90" height="15.10" fill="#595959"/>
<path d="M627.15,365.70V382.10M624.95,365.70h4.4M624.95,382.10h4.4" stroke="#595959" stroke-width="1.3" fill="none"/>
<rect x="631.10" y="358.80" width="7.90" height="0.90" fill="#3f3f3f"/>
<path d="M635.05,352.30V367.10M632.85,352.30h4.4M632.85,367.10h4.4" stroke="#3f3f3f" stroke-width="1.3" fill="none"/>
<rect x="653.80" y="340.90" width="7.90" height="17.90" fill="#cbcbcb"/>
<path d="M657.75,330.70V351.10M655.55,330.70h4.4M655.55,351.10h4.4" stroke="#cbcbcb" stroke-width="1.3" fill="none"/>
<rect x="661.70" y="344.00" width="7.90" height="14.80" fill="#b4b4b4"/>
<path d="M665.65,336.40V351.60M663.45,336.40h4.4M663.45,351.60h4.4" stroke="#b4b4b4" stroke-width="1.3" fill="none"/>
<rect x="669.60" y="354.20" width="7.90" height="4.60" fill="#9d9d9d"/>
<path d="M673.55,347.20V361.20M671.35,347.20h4.4M671.35,361.20h4.4" stroke="#9d9d9d" stroke-width="1.3" fill="none"/>
<rect x="677.50" y="357.90" width="7.90" height="0.90" fill="#868686"/>
<path d="M681.45,350.20V365.60M679.25,350.20h4.4M679.25,365.60h4.4" stroke="#868686" stroke-width="1.3" fill="none"/>
<rect x="685.40" y="351.00" width="7.90" height="7.80" fill="#707070"/>
<path d="M689.35,343.40V358.60M687.15,343.40h4.4M687.15,358.60h4.4" stroke="#707070" stroke-width="1.3" fill="none"/>
<rect x="693.30" y="358.80" width="7.90" height="7.10" fill="#595959"/>
<path d="M697.25,357.30V374.50M695.05,357.30h4.4M695.05,374.50h4.4" stroke="#595959" stroke-width="1.3" fill="none"/>
<rect x="701.20" y="358.80" width="7.90" height="4.50" fill="#3f3f3f"/>
<path d="M705.15,354.40V372.20M702.95,354.40h4.4M702.95,372.20h4.4" stroke="#3f3f3f" stroke-width="1.3" fill="none"/>
<rect x="723.90" y="357.90" width="7.90" height="0.90" fill="#cbcbcb"/>
<path d="M727.85,349.80V366.00M725.65,349.80h4.4M725.65,366.00h4.4" stroke="#cbcbcb" stroke-width="1.3" fill="none"/>
<rect x="731.80" y="355.50" width="7.90" height="3.30" fill="#b4b4b4"/>
<path d="M735.75,349.70V361.30M733.55,349.70h4.4M733.55,361.30h4.4" stroke="#b4b4b4" stroke-width="1.3" fill="none"/>
<rect x="739.70" y="358.10" width="7.90" height="0.70" fill="#9d9d9d"/>
<path d="M743.65,355.50V360.70M741.45,355.50h4.4M741.45,360.70h4.4" stroke="#9d9d9d" stroke-width="1.3" fill="none"/>
<rect x="747.60" y="350.20" width="7.90" height="8.60" fill="#868686"/>
<path d="M751.55,342.80V357.60M749.35,342.80h4.4M749.35,357.60h4.4" stroke="#868686" stroke-width="1.3" fill="none"/>
<rect x="755.50" y="321.60" width="7.90" height="37.20" fill="#707070"/>
<path d="M759.45,313.80V329.40M757.25,313.80h4.4M757.25,329.40h4.4" stroke="#707070" stroke-width="1.3" fill="none"/>
<rect x="763.40" y="358.80" width="7.90" height="12.50" fill="#595959"/>
<path d="M767.35,363.90V378.70M765.15,363.90h4.4M765.15,378.70h4.4" stroke="#595959" stroke-width="1.3" fill="none"/>
<rect x="771.30" y="358.80" width="7.90" height="35.80" fill="#3f3f3f"/>
<path d="M775.25,383.60V405.60M773.05,383.60h4.4M773.05,405.60h4.4" stroke="#3f3f3f" stroke-width="1.3" fill="none"/>
<path d="M46.45,50.00V67.00" stroke="#cdcdcd" stroke-width="1.1"/>
<path d="M51.26,52.20V64.80" stroke="#cdcdcd" stroke-width="1.1"/>
<path d="M60.90,42.50V53.90" stroke="#cdcdcd" stroke-width="1.1"/>
<path d="M80.18,55.80V67.20" stroke="#cdcdcd" stroke-width="1.1"/>
<path d="M118.72,39.30V50.30" stroke="#cdcdcd" stroke-width="1.1"/>
<path d="M195.82,48.60V60.00" stroke="#cdcdcd" stroke-width="1.1"/>
<path d="M350.02,53.40V66.40" stroke="#cdcdcd" stroke-width="1.1"/>
<polyline points="46.45,58.50 51.26,58.50 60.90,48.20 80.18,61.50 118.72,44.80 195.82,54.30 350.02,59.90" fill="none" stroke="#cdcdcd" stroke-width="1.3"/>
<circle cx="46.45" cy="58.50" r="2.4" fill="#cdcdcd"/>
<circle cx="51.26" cy="58.50" r="2.4" fill="#cdcdcd"/>
<circle cx="60.90" cy="48.20" r="2.4" fill="#cdcdcd"/>
<circle cx="80.18" cy="61.50" r="2.4" fill="#cdcdcd"/>
<circle cx="118.72" cy="44.80" r="2.4" fill="#cdcdcd"/>
<circle cx="195.82" cy="54.30" r="2.4" fill="#cdcdcd"/>
<circle cx="350.02" cy="59.90" r="2.4" fill="#cdcdcd"/>
<path d="M48.37,40.30V51.70" stroke="#ababab" stroke-width="1.1"/>
<path d="M53.19,49.80V60.60" stroke="#ababab" stroke-width="1.1"/>
<path d="M62.83,44.30V62.10" stroke="#ababab" stroke-width="1.1"/>
<path d="M82.10,43.50V55.30" stroke="#ababab" stroke-width="1.1"/>
<path d="M120.65,31.20V43.00" stroke="#ababab" stroke-width="1.1"/>
<path d="M197.75,45.40V55.60" stroke="#ababab" stroke-width="1.1"/>
<path d="M351.94,62.50V70.10" stroke="#ababab" stroke-width="1.1"/>
<polyline points="48.37,46.00 53.19,55.20 62.83,53.20 82.10,49.40 120.65,37.10 197.75,50.50 351.94,66.30" fill="none" stroke="#ababab" stroke-width="1.3"/>
<circle cx="48.37" cy="46.00" r="2.4" fill="#ababab"/>
<circle cx="53.19" cy="55.20" r="2.4" fill="#ababab"/>
<circle cx="62.83" cy="53.20" r="2.4" fill="#ababab"/>
<circle cx="82.10" cy="49.40" r="2.4" fill="#ababab"/>
<circle cx="120.65" cy="37.10" r="2.4" fill="#ababab"/>
<circle cx="197.75" cy="50.50" r="2.4" fill="#ababab"/>
<circle cx="351.94" cy="66.30" r="2.4" fill="#ababab"/>
<path d="M50.30,51.00V63.80" stroke="#8a8a8a" stroke-width="1.1"/>
<path d="M55.12,44.50V59.10" stroke="#8a8a8a" stroke-width="1.1"/>
<path d="M64.76,47.10V55.90" stroke="#8a8a8a" stroke-width="1.1"/>
<path d="M84.03,46.60V55.60" stroke="#8a8a8a" stroke-width="1.1"/>
<path d="M122.58,28.60V35.60" stroke="#8a8a8a" stroke-width="1.1"/>
<path d="M199.68,45.40V56.80" stroke="#8a8a8a" stroke-width="1.1"/>
<path d="M353.87,74.00V82.80" stroke="#8a8a8a" stroke-width="1.1"/>
<polyline points="50.30,57.40 55.12,51.80 64.76,51.50 84.03,51.10 122.58,32.10 199.68,51.10 353.87,78.40" fill="none" stroke="#8a8a8a" stroke-width="1.3"/>
<circle cx="50.30" cy="57.40" r="2.4" fill="#8a8a8a"/>
<circle cx="55.12" cy="51.80" r="2.4" fill="#8a8a8a"/>
<circle cx="64.76" cy="51.50" r="2.4" fill="#8a8a8a"/>
<circle cx="84.03" cy="51.10" r="2.4" fill="#8a8a8a"/>
<circle cx="122.58" cy="32.10" r="2.4" fill="#8a8a8a"/>
<circle cx="199.68" cy="51.10" r="2.4" fill="#8a8a8a"/>
<circle cx="353.87" cy="78.40" r="2.4" fill="#8a8a8a"/>
<path d="M52.23,55.20V67.20" stroke="#676767" stroke-width="1.1"/>
<path d="M57.05,41.30V50.30" stroke="#676767" stroke-width="1.1"/>
<path d="M66.68,40.90V52.30" stroke="#676767" stroke-width="1.1"/>
<path d="M85.96,35.50V44.50" stroke="#676767" stroke-width="1.1"/>
<path d="M124.51,29.50V40.50" stroke="#676767" stroke-width="1.1"/>
<path d="M201.60,58.30V70.50" stroke="#676767" stroke-width="1.1"/>
<path d="M355.80,107.60V110.60" stroke="#676767" stroke-width="1.1"/>
<polyline points="52.23,61.20 57.05,45.80 66.68,46.60 85.96,40.00 124.51,35.00 201.60,64.40 355.80,109.10" fill="none" stroke="#676767" stroke-width="1.3"/>
<circle cx="52.23" cy="61.20" r="2.4" fill="#676767"/>
<circle cx="57.05" cy="45.80" r="2.4" fill="#676767"/>
<circle cx="66.68" cy="46.60" r="2.4" fill="#676767"/>
<circle cx="85.96" cy="40.00" r="2.4" fill="#676767"/>
<circle cx="124.51" cy="35.00" r="2.4" fill="#676767"/>
<circle cx="201.60" cy="64.40" r="2.4" fill="#676767"/>
<circle cx="355.80" cy="109.10" r="2.4" fill="#676767"/>
<path d="M54.16,49.40V60.60" stroke="#3d3d3d" stroke-width="1.1"/>
<path d="M58.97,50.40V64.40" stroke="#3d3d3d" stroke-width="1.1"/>
<path d="M68.61,43.50V50.50" stroke="#3d3d3d" stroke-width="1.1"/>
<path d="M87.89,23.40V33.00" stroke="#3d3d3d" stroke-width="1.1"/>
<path d="M126.43,32.70V43.50" stroke="#3d3d3d" stroke-width="1.1"/>
<path d="M203.53,89.60V99.80" stroke="#3d3d3d" stroke-width="1.1"/>
<path d="M357.73,111.80V115.80" stroke="#3d3d3d" stroke-width="1.1"/>
<polyline points="54.16,55.00 58.97,57.40 68.61,47.00 87.89,28.20 126.43,38.10 203.53,94.70 357.73,113.80" fill="none" stroke="#3d3d3d" stroke-width="1.3"/>
<circle cx="54.16" cy="55.00" r="2.4" fill="#3d3d3d"/>
<circle cx="58.97" cy="57.40" r="2.4" fill="#3d3d3d"/>
<circle cx="68.61" cy="47.00" r="2.4" fill="#3d3d3d"/>
<circle cx="87.89" cy="28.20" r="2.4" fill="#3d3d3d"/>
<circle cx="126.43" cy="38.10" r="2.4" fill="#3d3d3d"/>
<circle cx="203.53" cy="94.70" r="2.4" fill="#3d3d3d"/>
<circle cx="357.73" cy="113.80" r="2.4" fill="#3d3d3d"/>
<polyline points="44.52,55.62 49.34,53.74 58.97,49.30 78.25,46.04 116.80,37.42 193.89,63.00 348.09,85.50" fill="none" stroke="#d41f33" stroke-width="2" stroke-dasharray="4.5 4.15"/>
<path d="M39.70,53.22H377.0" stroke="#111" stroke-width="2" stroke-dasharray="4.5 4.175"/>
<path d="M46.45,200.30V208.30" stroke="#cdcdcd" stroke-width="1.1"/>
<path d="M51.26,201.80V211.80" stroke="#cdcdcd" stroke-width="1.1"/>
<path d="M60.90,176.10V196.30" stroke="#cdcdcd" stroke-width="1.1"/>
<path d="M80.18,204.60V218.60" stroke="#cdcdcd" stroke-width="1.1"/>
<path d="M118.72,176.30V205.10" stroke="#cdcdcd" stroke-width="1.1"/>
<path d="M195.82,188.40V215.60" stroke="#cdcdcd" stroke-width="1.1"/>
<path d="M350.02,203.80V222.00" stroke="#cdcdcd" stroke-width="1.1"/>
<polyline points="46.45,204.30 51.26,206.80 60.90,186.20 80.18,211.60 118.72,190.70 195.82,202.00 350.02,212.90" fill="none" stroke="#cdcdcd" stroke-width="1.3"/>
<circle cx="46.45" cy="204.30" r="2.4" fill="#cdcdcd"/>
<circle cx="51.26" cy="206.80" r="2.4" fill="#cdcdcd"/>
<circle cx="60.90" cy="186.20" r="2.4" fill="#cdcdcd"/>
<circle cx="80.18" cy="211.60" r="2.4" fill="#cdcdcd"/>
<circle cx="118.72" cy="190.70" r="2.4" fill="#cdcdcd"/>
<circle cx="195.82" cy="202.00" r="2.4" fill="#cdcdcd"/>
<circle cx="350.02" cy="212.90" r="2.4" fill="#cdcdcd"/>
<path d="M48.37,186.50V201.70" stroke="#ababab" stroke-width="1.1"/>
<path d="M53.19,197.40V215.00" stroke="#ababab" stroke-width="1.1"/>
<path d="M62.83,187.80V210.40" stroke="#ababab" stroke-width="1.1"/>
<path d="M82.10,190.30V207.10" stroke="#ababab" stroke-width="1.1"/>
<path d="M120.65,183.30V202.90" stroke="#ababab" stroke-width="1.1"/>
<path d="M197.75,192.60V204.00" stroke="#ababab" stroke-width="1.1"/>
<path d="M351.94,198.20V203.20" stroke="#ababab" stroke-width="1.1"/>
<polyline points="48.37,194.10 53.19,206.20 62.83,199.10 82.10,198.70 120.65,193.10 197.75,198.30 351.94,200.70" fill="none" stroke="#ababab" stroke-width="1.3"/>
<circle cx="48.37" cy="194.10" r="2.4" fill="#ababab"/>
<circle cx="53.19" cy="206.20" r="2.4" fill="#ababab"/>
<circle cx="62.83" cy="199.10" r="2.4" fill="#ababab"/>
<circle cx="82.10" cy="198.70" r="2.4" fill="#ababab"/>
<circle cx="120.65" cy="193.10" r="2.4" fill="#ababab"/>
<circle cx="197.75" cy="198.30" r="2.4" fill="#ababab"/>
<circle cx="351.94" cy="200.70" r="2.4" fill="#ababab"/>
<path d="M50.30,205.90V211.50" stroke="#8a8a8a" stroke-width="1.1"/>
<path d="M55.12,186.60V205.40" stroke="#8a8a8a" stroke-width="1.1"/>
<path d="M64.76,189.30V197.70" stroke="#8a8a8a" stroke-width="1.1"/>
<path d="M84.03,195.40V210.80" stroke="#8a8a8a" stroke-width="1.1"/>
<path d="M122.58,170.60V179.00" stroke="#8a8a8a" stroke-width="1.1"/>
<path d="M199.68,192.20V208.20" stroke="#8a8a8a" stroke-width="1.1"/>
<path d="M353.87,220.20V229.00" stroke="#8a8a8a" stroke-width="1.1"/>
<polyline points="50.30,208.70 55.12,196.00 64.76,193.50 84.03,203.10 122.58,174.80 199.68,200.20 353.87,224.60" fill="none" stroke="#8a8a8a" stroke-width="1.3"/>
<circle cx="50.30" cy="208.70" r="2.4" fill="#8a8a8a"/>
<circle cx="55.12" cy="196.00" r="2.4" fill="#8a8a8a"/>
<circle cx="64.76" cy="193.50" r="2.4" fill="#8a8a8a"/>
<circle cx="84.03" cy="203.10" r="2.4" fill="#8a8a8a"/>
<circle cx="122.58" cy="174.80" r="2.4" fill="#8a8a8a"/>
<circle cx="199.68" cy="200.20" r="2.4" fill="#8a8a8a"/>
<circle cx="353.87" cy="224.60" r="2.4" fill="#8a8a8a"/>
<path d="M52.23,194.00V223.00" stroke="#676767" stroke-width="1.1"/>
<path d="M57.05,185.20V194.80" stroke="#676767" stroke-width="1.1"/>
<path d="M66.68,189.40V202.00" stroke="#676767" stroke-width="1.1"/>
<path d="M85.96,178.60V193.80" stroke="#676767" stroke-width="1.1"/>
<path d="M124.51,171.50V180.70" stroke="#676767" stroke-width="1.1"/>
<path d="M201.60,194.70V203.30" stroke="#676767" stroke-width="1.1"/>
<path d="M355.80,250.40V258.80" stroke="#676767" stroke-width="1.1"/>
<polyline points="52.23,208.50 57.05,190.00 66.68,195.70 85.96,186.20 124.51,176.10 201.60,199.00 355.80,254.60" fill="none" stroke="#676767" stroke-width="1.3"/>
<circle cx="52.23" cy="208.50" r="2.4" fill="#676767"/>
<circle cx="57.05" cy="190.00" r="2.4" fill="#676767"/>
<circle cx="66.68" cy="195.70" r="2.4" fill="#676767"/>
<circle cx="85.96" cy="186.20" r="2.4" fill="#676767"/>
<circle cx="124.51" cy="176.10" r="2.4" fill="#676767"/>
<circle cx="201.60" cy="199.00" r="2.4" fill="#676767"/>
<circle cx="355.80" cy="254.60" r="2.4" fill="#676767"/>
<path d="M54.16,197.70V205.30" stroke="#3d3d3d" stroke-width="1.1"/>
<path d="M58.97,197.90V214.70" stroke="#3d3d3d" stroke-width="1.1"/>
<path d="M68.61,180.00V195.20" stroke="#3d3d3d" stroke-width="1.1"/>
<path d="M87.89,166.50V180.30" stroke="#3d3d3d" stroke-width="1.1"/>
<path d="M126.43,166.50V175.10" stroke="#3d3d3d" stroke-width="1.1"/>
<path d="M203.53,241.40V249.00" stroke="#3d3d3d" stroke-width="1.1"/>
<path d="M357.73,250.30V262.90" stroke="#3d3d3d" stroke-width="1.1"/>
<polyline points="54.16,201.50 58.97,206.30 68.61,187.60 87.89,173.40 126.43,170.80 203.53,245.20 357.73,256.60" fill="none" stroke="#3d3d3d" stroke-width="1.3"/>
<circle cx="54.16" cy="201.50" r="2.4" fill="#3d3d3d"/>
<circle cx="58.97" cy="206.30" r="2.4" fill="#3d3d3d"/>
<circle cx="68.61" cy="187.60" r="2.4" fill="#3d3d3d"/>
<circle cx="87.89" cy="173.40" r="2.4" fill="#3d3d3d"/>
<circle cx="126.43" cy="170.80" r="2.4" fill="#3d3d3d"/>
<circle cx="203.53" cy="245.20" r="2.4" fill="#3d3d3d"/>
<circle cx="357.73" cy="256.60" r="2.4" fill="#3d3d3d"/>
<polyline points="44.52,203.42 49.34,201.06 58.97,192.42 78.25,194.60 116.80,181.10 193.89,208.94 348.09,229.88" fill="none" stroke="#d41f33" stroke-width="2" stroke-dasharray="4.5 4.15"/>
<path d="M39.70,200.62H377.0" stroke="#111" stroke-width="2" stroke-dasharray="4.5 4.175"/>
<path d="M46.45,351.00V368.80" stroke="#cdcdcd" stroke-width="1.1"/>
<path d="M51.26,345.30V352.90" stroke="#cdcdcd" stroke-width="1.1"/>
<path d="M60.90,344.70V367.90" stroke="#cdcdcd" stroke-width="1.1"/>
<path d="M80.18,351.00V361.20" stroke="#cdcdcd" stroke-width="1.1"/>
<path d="M118.72,348.50V375.70" stroke="#cdcdcd" stroke-width="1.1"/>
<path d="M195.82,351.40V375.80" stroke="#cdcdcd" stroke-width="1.1"/>
<path d="M350.02,359.00V372.20" stroke="#cdcdcd" stroke-width="1.1"/>
<polyline points="46.45,359.90 51.26,349.10 60.90,356.30 80.18,356.10 118.72,362.10 195.82,363.60 350.02,365.60" fill="none" stroke="#cdcdcd" stroke-width="1.3"/>
<circle cx="46.45" cy="359.90" r="2.4" fill="#cdcdcd"/>
<circle cx="51.26" cy="349.10" r="2.4" fill="#cdcdcd"/>
<circle cx="60.90" cy="356.30" r="2.4" fill="#cdcdcd"/>
<circle cx="80.18" cy="356.10" r="2.4" fill="#cdcdcd"/>
<circle cx="118.72" cy="362.10" r="2.4" fill="#cdcdcd"/>
<circle cx="195.82" cy="363.60" r="2.4" fill="#cdcdcd"/>
<circle cx="350.02" cy="365.60" r="2.4" fill="#cdcdcd"/>
<path d="M48.37,349.70V356.10" stroke="#ababab" stroke-width="1.1"/>
<path d="M53.19,358.10V364.30" stroke="#ababab" stroke-width="1.1"/>
<path d="M62.83,340.20V355.00" stroke="#ababab" stroke-width="1.1"/>
<path d="M82.10,338.30V356.90" stroke="#ababab" stroke-width="1.1"/>
<path d="M120.65,350.50V365.90" stroke="#ababab" stroke-width="1.1"/>
<path d="M197.75,349.10V359.70" stroke="#ababab" stroke-width="1.1"/>
<path d="M351.94,348.50V358.70" stroke="#ababab" stroke-width="1.1"/>
<polyline points="48.37,352.90 53.19,361.20 62.83,347.60 82.10,347.60 120.65,358.20 197.75,354.40 351.94,353.60" fill="none" stroke="#ababab" stroke-width="1.3"/>
<circle cx="48.37" cy="352.90" r="2.4" fill="#ababab"/>
<circle cx="53.19" cy="361.20" r="2.4" fill="#ababab"/>
<circle cx="62.83" cy="347.60" r="2.4" fill="#ababab"/>
<circle cx="82.10" cy="347.60" r="2.4" fill="#ababab"/>
<circle cx="120.65" cy="358.20" r="2.4" fill="#ababab"/>
<circle cx="197.75" cy="354.40" r="2.4" fill="#ababab"/>
<circle cx="351.94" cy="353.60" r="2.4" fill="#ababab"/>
<path d="M50.30,347.60V354.40" stroke="#8a8a8a" stroke-width="1.1"/>
<path d="M55.12,349.70V361.10" stroke="#8a8a8a" stroke-width="1.1"/>
<path d="M64.76,356.10V361.10" stroke="#8a8a8a" stroke-width="1.1"/>
<path d="M84.03,342.10V353.10" stroke="#8a8a8a" stroke-width="1.1"/>
<path d="M122.58,351.70V363.10" stroke="#8a8a8a" stroke-width="1.1"/>
<path d="M199.68,365.70V382.10" stroke="#8a8a8a" stroke-width="1.1"/>
<path d="M353.87,352.30V367.10" stroke="#8a8a8a" stroke-width="1.1"/>
<polyline points="50.30,351.00 55.12,355.40 64.76,358.60 84.03,347.60 122.58,357.40 199.68,373.90 353.87,359.70" fill="none" stroke="#8a8a8a" stroke-width="1.3"/>
<circle cx="50.30" cy="351.00" r="2.4" fill="#8a8a8a"/>
<circle cx="55.12" cy="355.40" r="2.4" fill="#8a8a8a"/>
<circle cx="64.76" cy="358.60" r="2.4" fill="#8a8a8a"/>
<circle cx="84.03" cy="347.60" r="2.4" fill="#8a8a8a"/>
<circle cx="122.58" cy="357.40" r="2.4" fill="#8a8a8a"/>
<circle cx="199.68" cy="373.90" r="2.4" fill="#8a8a8a"/>
<circle cx="353.87" cy="359.70" r="2.4" fill="#8a8a8a"/>
<path d="M52.23,330.70V351.10" stroke="#676767" stroke-width="1.1"/>
<path d="M57.05,336.40V351.60" stroke="#676767" stroke-width="1.1"/>
<path d="M66.68,347.20V361.20" stroke="#676767" stroke-width="1.1"/>
<path d="M85.96,350.20V365.60" stroke="#676767" stroke-width="1.1"/>
<path d="M124.51,343.40V358.60" stroke="#676767" stroke-width="1.1"/>
<path d="M201.60,357.30V374.50" stroke="#676767" stroke-width="1.1"/>
<path d="M355.80,354.40V372.20" stroke="#676767" stroke-width="1.1"/>
<polyline points="52.23,340.90 57.05,344.00 66.68,354.20 85.96,357.90 124.51,351.00 201.60,365.90 355.80,363.30" fill="none" stroke="#676767" stroke-width="1.3"/>
<circle cx="52.23" cy="340.90" r="2.4" fill="#676767"/>
<circle cx="57.05" cy="344.00" r="2.4" fill="#676767"/>
<circle cx="66.68" cy="354.20" r="2.4" fill="#676767"/>
<circle cx="85.96" cy="357.90" r="2.4" fill="#676767"/>
<circle cx="124.51" cy="351.00" r="2.4" fill="#676767"/>
<circle cx="201.60" cy="365.90" r="2.4" fill="#676767"/>
<circle cx="355.80" cy="363.30" r="2.4" fill="#676767"/>
<path d="M54.16,349.80V366.00" stroke="#3d3d3d" stroke-width="1.1"/>
<path d="M58.97,349.70V361.30" stroke="#3d3d3d" stroke-width="1.1"/>
<path d="M68.61,355.50V360.70" stroke="#3d3d3d" stroke-width="1.1"/>
<path d="M87.89,342.80V357.60" stroke="#3d3d3d" stroke-width="1.1"/>
<path d="M126.43,313.80V329.40" stroke="#3d3d3d" stroke-width="1.1"/>
<path d="M203.53,363.90V378.70" stroke="#3d3d3d" stroke-width="1.1"/>
<path d="M357.73,383.60V405.60" stroke="#3d3d3d" stroke-width="1.1"/>
<polyline points="54.16,357.90 58.97,355.50 68.61,358.10 87.89,350.20 126.43,321.60 203.53,371.30 357.73,394.60" fill="none" stroke="#3d3d3d" stroke-width="1.3"/>
<circle cx="54.16" cy="357.90" r="2.4" fill="#3d3d3d"/>
<circle cx="58.97" cy="355.50" r="2.4" fill="#3d3d3d"/>
<circle cx="68.61" cy="358.10" r="2.4" fill="#3d3d3d"/>
<circle cx="87.89" cy="350.20" r="2.4" fill="#3d3d3d"/>
<circle cx="126.43" cy="321.60" r="2.4" fill="#3d3d3d"/>
<circle cx="203.53" cy="371.30" r="2.4" fill="#3d3d3d"/>
<circle cx="357.73" cy="394.60" r="2.4" fill="#3d3d3d"/>
<polyline points="44.52,352.52 49.34,353.04 58.97,354.96 78.25,351.88 116.80,350.06 193.89,365.82 348.09,367.36" fill="none" stroke="#d41f33" stroke-width="2" stroke-dasharray="4.5 4.15"/>
<path d="M39.70,358.80H377.0" stroke="#111" stroke-width="2" stroke-dasharray="4.5 4.175"/>
<text transform="translate(20,63.9) rotate(-90)" text-anchor="middle" class="lb">Proportion forward jumps</text>
<text transform="translate(7.7,211.4) rotate(-90)" text-anchor="middle" class="lb">Jump magnitude</text>
<text transform="translate(19,211.0) rotate(-90)" text-anchor="middle" class="lb">(degrees rotation)</text>
<text transform="translate(7.5,358.4) rotate(-90)" text-anchor="middle" class="lb">Mislocalisation</text>
<text transform="translate(18.7,358.8) rotate(-90)" text-anchor="middle" class="lb">(degrees rotation)</text>
<text x="208.4" y="437" text-anchor="middle" class="lb">Inducer duration (ms)</text>
<text x="611.1" y="437" text-anchor="middle" class="lb">Inducer speed (degrees/s)</text>
<text x="208" y="456.2" text-anchor="middle" class="lgt">Inducer speed (degrees/s)</text>
<text x="611" y="456.2" text-anchor="middle" class="lgt">Inducer duration (ms)</text>
<path d="M92,467.4H112.7" stroke="#cdcdcd" stroke-width="1.1"/>
<circle cx="102.7" cy="467.4" r="2.1" fill="#cdcdcd"/>
<text x="116" y="470.09999999999997" class="lg">12.5</text>
<path d="M133.8,467.4H154.6" stroke="#ababab" stroke-width="1.1"/>
<circle cx="144.4" cy="467.4" r="2.1" fill="#ababab"/>
<text x="157" y="470.09999999999997" class="lg">25</text>
<path d="M168,467.4H187.7" stroke="#8a8a8a" stroke-width="1.1"/>
<circle cx="179" cy="467.4" r="2.1" fill="#8a8a8a"/>
<text x="191" y="470.09999999999997" class="lg">50</text>
<path d="M203,467.4H224" stroke="#676767" stroke-width="1.1"/>
<circle cx="213.6" cy="467.4" r="2.1" fill="#676767"/>
<text x="226.7" y="470.09999999999997" class="lg">100</text>
<path d="M242,467.4H263.8" stroke="#3d3d3d" stroke-width="1.1"/>
<circle cx="253" cy="467.4" r="2.1" fill="#3d3d3d"/>
<text x="265" y="470.09999999999997" class="lg">200</text>
<path d="M281,467.4H303" stroke="#d41f33" stroke-width="1.7" stroke-dasharray="4.5 4.15"/>
<text x="304.6" y="470.09999999999997" class="lg">Mean</text>
<rect x="488" y="465" width="21.2" height="10" fill="#cbcbcb"/>
<text x="511.7" y="470.09999999999997" class="lg">5</text>
<rect x="519.4" y="465" width="20.6" height="10" fill="#b4b4b4"/>
<text x="542.5" y="470.09999999999997" class="lg">10</text>
<rect x="553.6" y="465" width="21.0" height="10" fill="#9d9d9d"/>
<text x="576" y="470.09999999999997" class="lg">20</text>
<rect x="588" y="465" width="21.8" height="10" fill="#868686"/>
<text x="612" y="470.09999999999997" class="lg">40</text>
<rect x="623" y="465" width="21.2" height="10" fill="#707070"/>
<text x="646" y="470.09999999999997" class="lg">80</text>
<rect x="658" y="465" width="21.5" height="10" fill="#595959"/>
<text x="681" y="470.09999999999997" class="lg">160</text>
<rect x="697" y="465" width="21.0" height="10" fill="#3f3f3f"/>
<text x="720" y="470.09999999999997" class="lg">320</text>
</svg></body></html>
